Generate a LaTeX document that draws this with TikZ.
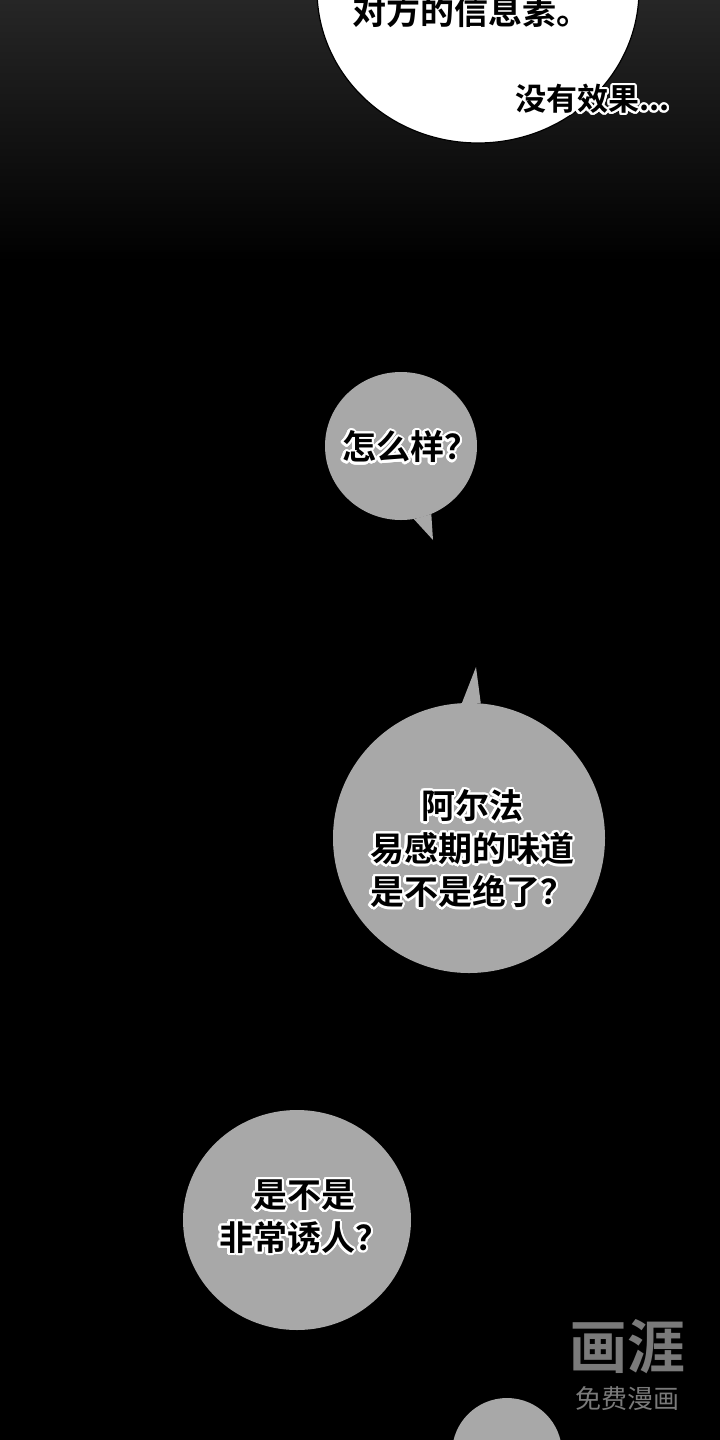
\documentclass[tikz,border=0pt]{standalone}
\usepackage{fontspec}
\newfontfamily\cjk{Noto Sans CJK SC}[BoldFont={Noto Sans CJK SC Bold}]
\usepackage{contour}
\contourlength{2.2pt}
\contournumber{24}
\usepackage{tikz}
\usetikzlibrary{
  shapes.geometric, positioning, calc
}
\usepackage{xcolor}
\definecolor{bubblegrey}{RGB}{168,168,168}
\definecolor{markgrey}{RGB}{122,122,122}
\definecolor{topgrey}{RGB}{38,38,38}
\newcommand{\ow}[1]{\contour{white}{#1}}

\begin{document}
\begin{tikzpicture}[x=1pt, y=-1pt,
  bubble/.style={ellipse, fill=bubblegrey, inner sep=0pt},
  says/.style={font=\cjk\bfseries\fontsize{34}{43}\selectfont, align=center, inner sep=0pt}]
  \useasboundingbox (0,0) rectangle (720,1440);
  % background
  \shade[top color=topgrey, bottom color=black] (0,0) rectangle (720,262);
  \fill[black] (0,260) rectangle (720,1440);

  % top bubble
  \node[ellipse, fill=white, draw=black, line width=1.2pt, minimum width=322, minimum height=306] (heat) at (478,-10) {};
  \node[says] (heatText) at (471,11) {对方的信息素。};
  \node[says, font=\cjk\bfseries\fontsize{31}{36}\selectfont, anchor=west] (heatNote) at (515,100) {\ow{没有效果...}};

  % bubbles
  \node[bubble, minimum width=152, minimum height=148] (how) at (401,446) {};
  \coordinate (howTip) at (433,540);
  \fill[bubblegrey] (how.-80) -- (howTip) -- (how.-66) -- cycle;
  \node[says] (howText) at (410,448) {\ow{怎么样？}};

  \node[bubble, minimum width=272, minimum height=270] (alpha) at (469,838) {};
  \coordinate (alphaTip) at (476,667);
  \fill[bubblegrey] (alpha.93) -- (alphaTip) -- (alpha.85) -- cycle;
  \node[says] (alphaText) at (472,850) {\ow{阿尔法}\\ \ow{易感期的味道}\\ \ow{是不是绝了？}};

  \node[bubble, minimum width=228, minimum height=220] (lure) at (297,1220) {};
  \node[says] (lureText) at (304,1218) {\ow{是不是}\\ \ow{非常诱人？}};

  \node[bubble, minimum width=110, minimum height=110] (next) at (507,1453) {};

  % watermark
  \node[font=\cjk\bfseries\fontsize{58}{60}\selectfont, text=markgrey, inner sep=0pt] (mark) at (627,1347) {画涯};
  \node[font=\cjk\fontsize{26}{28}\selectfont, text=markgrey, inner sep=0pt, below=12pt of mark] (markSub) {免费漫画};
\end{tikzpicture}
\end{document}
